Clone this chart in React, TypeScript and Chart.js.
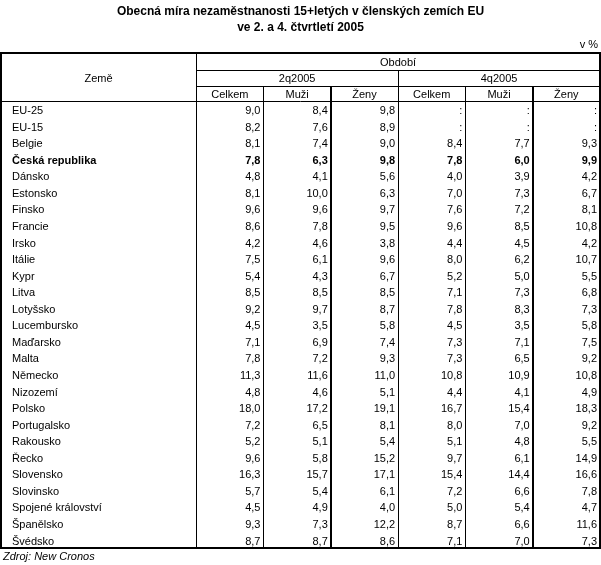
import React, { useEffect, useRef } from "react";
import { Chart, registerables } from "chart.js";

Chart.register(...registerables);

const titleLines = ["Obecná míra nezaměstnanosti 15+letých v členských zemích EU", "ve 2. a 4. čtvrtletí 2005"];
const unitLabel = "v %";
const sourceLabel = "Zdroj: New Cronos";
const rowHeader = "Země";
const periodHeader = "Období";
const periods = ["2q2005", "4q2005"];
const subHeaders = ["Celkem", "Muži", "Ženy"];
const boldCountry = "Česká republika";

const countries = [
  "EU-25", "EU-15", "Belgie", "Česká republika", "Dánsko", "Estonsko", "Finsko", "Francie", "Irsko",
  "Itálie", "Kypr", "Litva", "Lotyšsko", "Lucembursko", "Maďarsko", "Malta", "Německo", "Nizozemí",
  "Polsko", "Portugalsko", "Rakousko", "Řecko", "Slovensko", "Slovinsko", "Spojené království",
  "Španělsko", "Švédsko",
];

const celkem2q = [9.0, 8.2, 8.1, 7.8, 4.8, 8.1, 9.6, 8.6, 4.2, 7.5, 5.4, 8.5, 9.2, 4.5, 7.1, 7.8, 11.3, 4.8, 18.0, 7.2, 5.2, 9.6, 16.3, 5.7, 4.5, 9.3, 8.7];
const muzi2q = [8.4, 7.6, 7.4, 6.3, 4.1, 10.0, 9.6, 7.8, 4.6, 6.1, 4.3, 8.5, 9.7, 3.5, 6.9, 7.2, 11.6, 4.6, 17.2, 6.5, 5.1, 5.8, 15.7, 5.4, 4.9, 7.3, 8.7];
const zeny2q = [9.8, 8.9, 9.0, 9.8, 5.6, 6.3, 9.7, 9.5, 3.8, 9.6, 6.7, 8.5, 8.7, 5.8, 7.4, 9.3, 11.0, 5.1, 19.1, 8.1, 5.4, 15.2, 17.1, 6.1, 4.0, 12.2, 8.6];
const celkem4q = [null, null, 8.4, 7.8, 4.0, 7.0, 7.6, 9.6, 4.4, 8.0, 5.2, 7.1, 7.8, 4.5, 7.3, 7.3, 10.8, 4.4, 16.7, 8.0, 5.1, 9.7, 15.4, 7.2, 5.0, 8.7, 7.1];
const muzi4q = [null, null, 7.7, 6.0, 3.9, 7.3, 7.2, 8.5, 4.5, 6.2, 5.0, 7.3, 8.3, 3.5, 7.1, 6.5, 10.9, 4.1, 15.4, 7.0, 4.8, 6.1, 14.4, 6.6, 5.4, 6.6, 7.0];
const zeny4q = [null, null, 9.3, 9.9, 4.2, 6.7, 8.1, 10.8, 4.2, 10.7, 5.5, 6.8, 7.3, 5.8, 7.5, 9.2, 10.8, 4.9, 18.3, 9.2, 5.5, 14.9, 16.6, 7.8, 4.7, 11.6, 7.3];

const columns: (number | null)[][] = [celkem2q, muzi2q, zeny2q, celkem4q, muzi4q, zeny4q];

// Table geometry in scale units
const X_MIN = -2.9;
const X_MAX = 6;
const Y_MIN = -2.9;
const Y_MAX = countries.length;

const FONT = "'Liberation Sans', Arial, sans-serif";
const TEXT_DY = 1.8;

function fmt(v: number | null) {
  return v === null ? ":" : v.toFixed(1).replace(".", ",");
}

const tablePlugin = {
  id: "tablePlugin",
  afterDraw(chart: any) {
    const ctx = chart.ctx as CanvasRenderingContext2D;
    const xs = chart.scales.x;
    const ys = chart.scales.y;
    const X = (v: number) => xs.getPixelForValue(v);
    const Y = (v: number) => ys.getPixelForValue(v);
    const s1 = (p: number) => Math.round(p) + 0.5;

    ctx.save();
    ctx.fillStyle = "#000";
    ctx.strokeStyle = "#000";

    // Title
    ctx.font = `bold 12px ${FONT}`;
    ctx.textAlign = "center";
    ctx.textBaseline = "middle";
    titleLines.forEach((t, i) => ctx.fillText(t, chart.width / 2, 12 + i * 16));

    // unit
    ctx.font = `11px ${FONT}`;
    ctx.textAlign = "right";
    ctx.fillText(unitLabel, X(X_MAX) - 2, Y(Y_MIN) - 8);

    // source
    ctx.font = `italic 11px ${FONT}`;
    ctx.textAlign = "left";
    ctx.fillText(sourceLabel, X(X_MIN) + 2, Y(Y_MAX) + 9);

    // lines
    const hline = (y: number, x0: number, x1: number, w = 1) => {
      ctx.lineWidth = w;
      const py = w === 1 ? s1(Y(y)) : Math.round(Y(y));
      ctx.beginPath();
      ctx.moveTo(Math.round(X(x0)), py);
      ctx.lineTo(Math.round(X(x1)), py);
      ctx.stroke();
    };
    const vline = (x: number, y0: number, y1: number, w = 1) => {
      ctx.lineWidth = w;
      const px = w === 1 ? s1(X(x)) : Math.round(X(x));
      ctx.beginPath();
      ctx.moveTo(px, Math.round(Y(y0)));
      ctx.lineTo(px, Math.round(Y(y1)));
      ctx.stroke();
    };
    hline(-1.9, 0, X_MAX);
    hline(-0.9, 0, X_MAX);
    hline(0, X_MIN, X_MAX);
    vline(0, Y_MIN, Y_MAX);
    vline(3, -1.9, Y_MAX);
    vline(1, -0.9, Y_MAX);
    vline(4, -0.9, Y_MAX);
    vline(2, -0.9, Y_MAX, 2);
    vline(5, -0.9, Y_MAX, 2);
    // outer border
    ctx.lineWidth = 2;
    ctx.strokeRect(Math.round(X(X_MIN)), Math.round(Y(Y_MIN)), Math.round(X(X_MAX)) - Math.round(X(X_MIN)), Math.round(Y(Y_MAX)) - Math.round(Y(Y_MIN)));

    // headers
    ctx.font = `11px ${FONT}`;
    ctx.textAlign = "center";
    ctx.textBaseline = "middle";
    ctx.fillText(rowHeader, (X(X_MIN) + X(0)) / 2, Y((Y_MIN + 0) / 2) + 2);
    ctx.fillText(periodHeader, (X(0) + X(X_MAX)) / 2, Y(-2.4) + 1.5);
    periods.forEach((p, i) => ctx.fillText(p, (X(i * 3) + X(i * 3 + 3)) / 2, Y(-1.4) + 1.5));
    for (let c = 0; c < 6; c++) {
      ctx.fillText(subHeaders[c % 3], (X(c) + X(c + 1)) / 2, Y(-0.45) + 1.5);
    }

    // country names
    ctx.textAlign = "left";
    countries.forEach((name, i) => {
      ctx.font = name === boldCountry ? `bold 11px ${FONT}` : `11px ${FONT}`;
      ctx.fillText(name, X(X_MIN) + 11, Y(i + 0.5) + TEXT_DY);
    });

    // values via dataset elements
    ctx.textAlign = "right";
    chart.data.datasets.forEach((ds: any, di: number) => {
      const meta = chart.getDatasetMeta(di);
      meta.data.forEach((el: any, i: number) => {
        const bold = countries[i] === boldCountry;
        ctx.font = bold ? `bold 11px ${FONT}` : `11px ${FONT}`;
        const right = X(di + 1) - 3;
        ctx.fillText(fmt(columns[di][i]), right, el.y + TEXT_DY);
      });
    });
    ctx.restore();
  },
};

export default function App() {
  const ref = useRef<HTMLCanvasElement | null>(null);
  useEffect(() => {
    if (!ref.current) return;
    const chart = new Chart(ref.current, {
      type: "scatter",
      data: {
        datasets: columns.map((col, ci) => ({
          label: `${periods[Math.floor(ci / 3)]} ${subHeaders[ci % 3]}`,
          data: col.map((_, i) => ({ x: ci + 0.5, y: i + 0.5 })),
          pointRadius: 0,
          showLine: false,
        })),
      },
      options: {
        responsive: false,
        animation: false,
        devicePixelRatio: 1,
        layout: { padding: { left: 1, right: 1, top: 53, bottom: 17 } },
        scales: {
          x: { type: "linear", min: X_MIN, max: X_MAX, display: false },
          y: { type: "linear", min: Y_MIN, max: Y_MAX, reverse: true, display: false },
        },
        plugins: { legend: { display: false }, tooltip: { enabled: false }, title: { display: false } },
      },
      plugins: [tablePlugin],
    });
    return () => chart.destroy();
  }, []);
  return (
    <div style={{ position: "fixed", left: 0, top: 0, width: 601, height: 565, background: "#fff" }}>
      <canvas ref={ref} width={601} height={565} style={{ display: "block" }} />
    </div>
  );
}
